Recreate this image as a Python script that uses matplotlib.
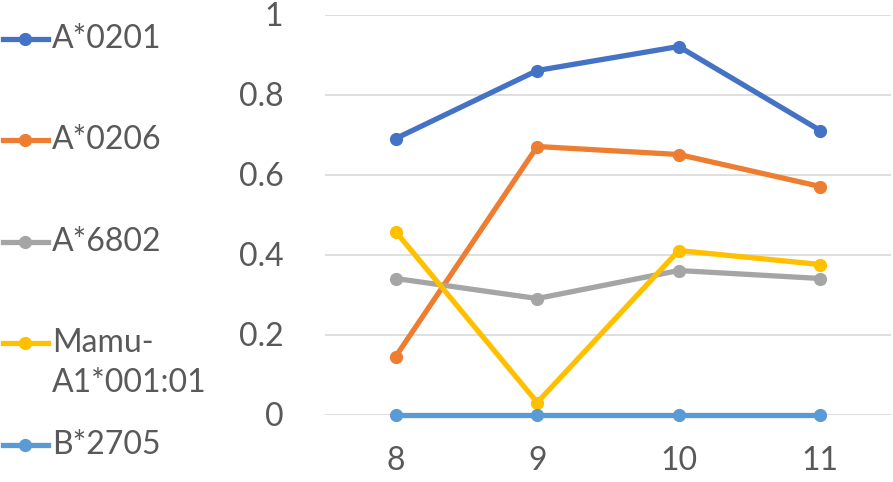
import matplotlib
matplotlib.use("Agg")
import matplotlib.pyplot as plt
from matplotlib.lines import Line2D

categories = ["8", "9", "10", "11"]
series_names = ["A*0201", "A*0206", "A*6802", "Mamu-\nA1*001:01", "B*2705"]
a0201 = [0.69, 0.86, 0.92, 0.71]
a0206 = [0.145, 0.67, 0.65, 0.57]
a6802 = [0.34, 0.29, 0.36, 0.34]
mamu = [0.457, 0.03, 0.41, 0.375]
b2705 = [0.0, 0.0, 0.0, 0.0]
yticks = [0, 0.2, 0.4, 0.6, 0.8, 1]
ytick_labels = ["0", "0.2", "0.4", "0.6", "0.8", "1"]

colors = ["#4472C4", "#ED7D31", "#A5A5A5", "#FFC000", "#5B9BD5"]
values = [a0201, a0206, a6802, mamu, b2705]

plt.rcParams['font.family'] = ['Lato', 'DejaVu Sans']
text_color = "#595959"

fig = plt.figure(figsize=(8.93, 4.82), dpi=100)
W, H = 893, 482
ax = fig.add_axes([325 / W, 1 - 414.5 / H, (891 - 325) / W, (414.5 - 14.5) / H])

x = list(range(len(categories)))
for vals, c in zip(values, colors):
    ax.plot(x, vals, color=c, lw=3.8, marker='o', markersize=8.5,
            solid_capstyle='round', clip_on=False, zorder=3)

ax.set_xlim(-0.5, len(categories) - 0.5)
ax.set_ylim(0, 1)
ax.set_xticks(x)
ax.set_xticklabels(categories)
ax.set_yticks(yticks)
ax.set_yticklabels(ytick_labels)
ax.tick_params(axis='both', length=0, labelsize=23, colors=text_color)
ax.tick_params(axis='y', pad=30)
ax.tick_params(axis='x', pad=23)
ax.grid(axis='y', color='#D9D9D9', lw=1.2, zorder=0)
for s in ax.spines.values():
    s.set_visible(False)

# legend on the left
leg_y = [39, 140, 242, 343, 445]
line_step = 40
for name, c, yy in zip(series_names, colors, leg_y):
    yf = 1 - yy / H
    fig.add_artist(Line2D([3 / W, 48 / W], [yf, yf], color=c, lw=3.8,
                          transform=fig.transFigure))
    fig.add_artist(Line2D([25 / W], [yf], color=c, marker='o', markersize=8.5,
                          transform=fig.transFigure))
    for i, part in enumerate(name.split('\n')):
        fig.text(52 / W, 1 - (yy + i * line_step) / H, part, fontsize=23,
                 color=text_color, va='center', ha='left')

fig.savefig("out.png", dpi=100)
